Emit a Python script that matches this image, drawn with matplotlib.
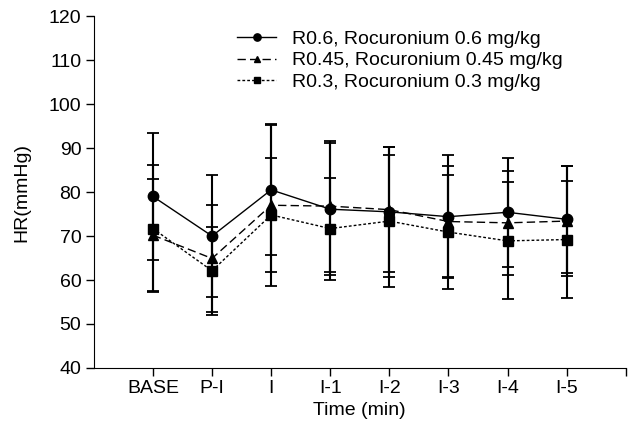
import matplotlib
matplotlib.use("Agg")
import matplotlib.pyplot as plt
import numpy as np

plt.rcParams['font.family'] = ['Liberation Sans', 'DejaVu Sans']

times = ['BASE', 'P-I', 'I', 'I-1', 'I-2', 'I-3', 'I-4', 'I-5']

# mean HR per group
r06 = [79.0, 70.0, 80.5, 76.1, 75.5, 74.4, 75.4, 73.8]
r045 = [70.2, 64.9, 77.0, 76.8, 76.0, 73.3, 73.0, 73.4]
r03 = [71.7, 62.1, 74.8, 71.7, 73.4, 70.9, 68.9, 69.2]

# standard deviations
r06_sd = [14.4, 13.8, 14.8, 15.0, 14.8, 14.0, 12.4, 12.2]
r045_sd = [12.8, 12.2, 18.4, 14.9, 14.2, 12.7, 11.8, 12.6]
r03_sd = [14.4, 10.0, 12.9, 11.6, 15.1, 13.0, 13.3, 13.4]

labels = ['R0.6, Rocuronium 0.6 mg/kg',
          'R0.45, Rocuronium 0.45 mg/kg',
          'R0.3, Rocuronium 0.3 mg/kg']


def main():
    x = np.arange(1, len(times) + 1)
    fig = plt.figure(figsize=(6.34, 4.37), dpi=100)
    ax = fig.add_axes([0.148, 0.158, 0.839, 0.805])

    series = [(r06, r06_sd, '-', 'o', 7.5),
              (r045, r045_sd, (0, (6, 3)), '^', 7),
              (r03, r03_sd, (0, (2, 1.5)), 's', 6.5)]
    for (m, sd, ls, mk, ms), lab in zip(series, labels):
        ax.errorbar(x, m, yerr=sd, color='black', ls='none', elinewidth=1.5,
                    capsize=4.6, capthick=1.3, zorder=2)
        ax.plot(x, m, color='black', linestyle=ls, linewidth=1.0, marker=mk,
                markersize=ms, label=lab, zorder=3)

    ax.set_xlim(0, 9)
    ax.set_ylim(40, 120)
    ax.set_xticks(np.arange(1, 10))
    ax.set_xticklabels(times + [''])
    ax.set_yticks(np.arange(40, 121, 10))
    ax.spines['top'].set_visible(False)
    ax.spines['right'].set_visible(False)
    ax.tick_params(direction='out', length=5.5, width=1, labelsize=14)
    ax.set_xlabel('Time (min)', fontsize=14, labelpad=3)
    ax.set_ylabel('HR(mmHg)', fontsize=14, labelpad=13)

    ax.legend(loc='upper left', bbox_to_anchor=(0.27, 0.96), frameon=False,
              fontsize=14, handlelength=2.0, handletextpad=0.8,
              labelspacing=0.2, borderpad=0, borderaxespad=0, markerscale=0.7)

    fig.savefig('out.png', dpi=100)


if __name__ == '__main__':
    main()
